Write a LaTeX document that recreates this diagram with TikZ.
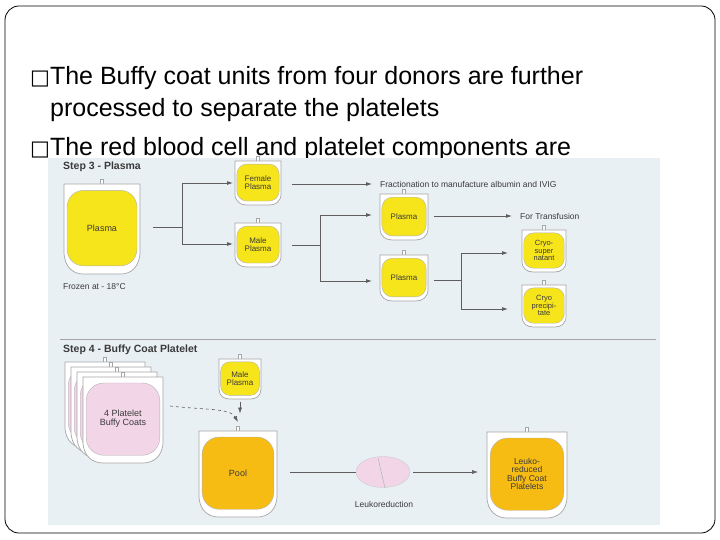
\documentclass[tikz,border=0pt]{standalone}
\usepackage{fontspec}
\setmainfont{Liberation Sans}
\newfontfamily\djv{DejaVu Sans}
\usetikzlibrary{arrows.meta,calc,shapes.geometric}
\definecolor{panel}{HTML}{E9F0F4}
\definecolor{yel}{HTML}{F7E51B}
\definecolor{org}{HTML}{F6BC14}
\definecolor{pnk}{HTML}{F3D5E8}
\definecolor{lin}{HTML}{5E5E5E}
\definecolor{txt}{HTML}{3A3A3A}
\tikzset{
 bagline/.style={draw=gray!70,line width=0.7pt},
 conn/.style={draw=lin,line width=0.8pt},
 arr/.style={conn,-{Latex[length=6pt,width=4pt]}},
 lbl/.style={font=\fontsize{8.5}{9}\selectfont,text=txt,anchor=west,inner sep=0},
 steptitle/.style={font=\fontsize{10.5}{11}\selectfont\bfseries,text=txt,anchor=west,inner sep=0},
 bullet/.style={font=\fontsize{25}{28}\selectfont,anchor=base west,inner sep=0}
}
\newcommand\bx{{\djv\fontsize{21}{21}\selectfont\char"25A1}}
\newcommand\bag[8]{%
\pgfmathsetmacro\hw{#4/2}\pgfmathsetmacro\hh{#5/2}\pgfmathsetmacro\rc{#4*0.22}%
\begin{scope}[shift={(#2,#3)}]
\draw[bagline,fill=white] (-1.5,-\hh-5) rectangle (1.5,-\hh+1);
\draw[bagline,fill=white] (-\hw,-\hh) -- (\hw,-\hh) -- (\hw,0.5*\hh) .. controls (\hw,0.85*\hh) and (0.75*\hw,\hh) .. (0.5*\hw,\hh) -- (-0.5*\hw,\hh) .. controls (-0.75*\hw,\hh) and (-\hw,0.85*\hh) .. (-\hw,0.5*\hh) -- cycle;
\node[draw=gray!60,line width=0.4pt,fill=#6,rounded corners=\rc pt,minimum width={#4*0.92pt},minimum height={#5*0.84pt},inner sep=0,align=center,text=txt,font=\fontsize{#8}{#8}\selectfont] (#1) at (0,-0.01*#5) {#7};
\end{scope}}
\begin{document}
\begin{tikzpicture}[x=1pt,y=-1pt]
\useasboundingbox (0,0) rectangle (720,540);
\fill[white] (0,0) rectangle (720,540);
\draw[black,line width=0.8pt,rounded corners=14pt] (5,6) rectangle (715,533);
\node[bullet] (b1) at (30,85) {\bx The Buffy coat units from four donors are further};
\node[bullet] (b2) at (50,117) {processed to separate the platelets};
\node[bullet] (b3) at (30,156) {\bx The red blood cell and platelet components are};
\fill[panel] (48,158) rectangle (660,525);
\node[steptitle] (s3) at (63,167) {Step 3 - Plasma};
\node[steptitle] (s4) at (63,350) {Step 4 - Buffy Coat Platelet};
\draw[gray!70,line width=0.8pt] (60,339) -- (656,339);
% step 3 bags
\bag{pl}{102}{229}{76}{90}{yel}{Plasma}{9}
\node[lbl] (frz) at (63,287) {Frozen at - 18°C};
\bag{fp}{258}{183}{46}{44}{yel}{Female\\Plasma}{8}
\bag{mp}{258}{245}{46}{44}{yel}{Male\\Plasma}{8}
\bag{p1}{404}{217}{48}{46}{yel}{Plasma}{8}
\bag{p2}{404}{278}{48}{46}{yel}{Plasma}{8}
\bag{cs}{544}{251}{44}{42}{yel}{Cryo-\\super\\natant}{7.5}
\bag{cp}{544}{306}{44}{42}{yel}{Cryo\\precipi-\\tate}{7.5}
\node[lbl] (frac) at (380,184) {Fractionation to manufacture albumin and IVIG};
\node[lbl] (trans) at (520,216) {For Transfusion};
\coordinate (j1) at (182,227);
\draw[conn] (153,227) -- (j1);
\draw[arr] (182,183) -- (233,183);
\draw[conn] (182,183) -- (182,244);
\draw[arr] (182,244) -- (233,244);
\draw[arr] (292,184) -- ([xshift=-8pt]frac.west);
\coordinate (j2) at (320,245);
\draw[conn] (292,245) -- (j2);
\draw[conn] (320,215) -- (320,281);
\draw[arr] (320,215) -- (372,215);
\draw[arr] (320,281) -- (372,281);
\draw[arr] (434,216) -- ([xshift=-8pt]trans.west);
\draw[conn] (434,280) -- (461,280);
\draw[conn] (461,253) -- (461,309);
\draw[arr] (461,253) -- (508,253);
\draw[arr] (461,309) -- (508,309);
% step 4
\bag{bc3}{105}{405}{80}{86}{pnk}{}{8}
\bag{bc2}{111}{410}{80}{86}{pnk}{}{8}
\bag{bc1}{117}{415}{80}{86}{pnk}{}{8}
\bag{bc}{123}{420}{80}{86}{pnk}{4 Platelet\\Buffy Coats}{9}
\bag{mp2}{240}{379}{42}{40}{yel}{Male\\Plasma}{8}
\bag{pool}{238}{474}{78}{86}{org}{Pool}{9}
\draw[arr,line width=0.6pt] (mp2.south) ++(0,6) -- ++(0,12);
\draw[arr,dashed,line width=0.6pt] (170,406) .. controls (205,410) and (230,408) .. (238,422);
\node[draw=gray!40,fill=pnk,ellipse,minimum width=54pt,minimum height=31pt,inner sep=0] (lk) at (383,472) {};
\draw[gray!60,line width=0.5pt] (378,458) -- (385,488);
\node[lbl,anchor=center] (lkl) at (384,504) {Leukoreduction};
\bag{lr}{527}{475}{80}{86}{org}{Leuko-\\reduced\\Buffy Coat\\Platelets}{8.5}
\draw[conn,line width=0.5pt] (290,472) -- (lk.west);
\draw[arr,line width=0.5pt] (lk.east) ++(3,0) -- (478,472);
\end{tikzpicture}
\end{document}
